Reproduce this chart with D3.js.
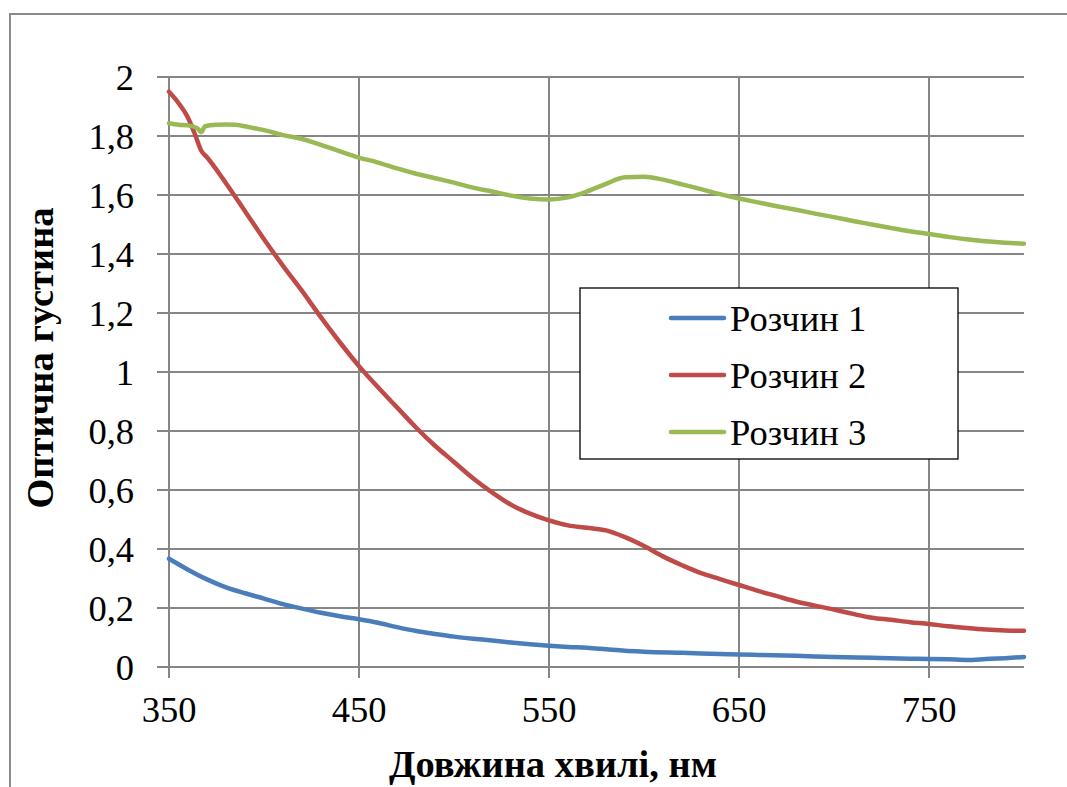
<!DOCTYPE html>
<html>
<head>
<meta charset="utf-8">
<script src="https://cdn.jsdelivr.net/npm/d3@7"></script>
</head>
<body style="margin:0">
<svg id="chart" width="1067" height="787" style="display:block;font-family:'Liberation Serif','Times New Roman',serif"></svg>
<script>
// Absorption spectra: wavelength (nm) vs optical density
const seriesNames = ["Розчин 1", "Розчин 2", "Розчин 3"];
const seriesColors = ["#4A7EBB", "#BE4B48", "#98B954"];

const solution1 = [
  [350,0.367],[360,0.330],[370,0.297],[380,0.270],[390,0.250],[400,0.232],[410,0.213],
  [420,0.198],[430,0.184],[440,0.172],[450,0.162],[460,0.150],[470,0.135],[480,0.122],
  [490,0.112],[500,0.103],[510,0.096],[520,0.090],[530,0.083],[540,0.077],[550,0.072],
  [560,0.068],[570,0.065],[580,0.060],[590,0.055],[600,0.052],[620,0.048],[640,0.044],
  [650,0.042],[660,0.041],[680,0.038],[700,0.034],[720,0.031],[740,0.028],[750,0.027],
  [760,0.026],[770,0.024],[780,0.027],[790,0.030],[800,0.034]
];

const solution2 = [
  [350,1.950],[355,1.912],[360,1.862],[364,1.800],[367,1.750],[370,1.728],[380,1.640],
  [390,1.545],[400,1.450],[410,1.360],[420,1.275],[430,1.185],[440,1.100],[450,1.020],
  [460,0.948],[470,0.880],[480,0.812],[490,0.750],[500,0.695],[510,0.640],[520,0.592],
  [530,0.550],[540,0.520],[550,0.497],[560,0.480],[570,0.472],[580,0.463],[590,0.440],
  [600,0.410],[610,0.375],[620,0.345],[630,0.318],[640,0.298],[650,0.278],[660,0.258],
  [670,0.240],[680,0.222],[690,0.208],[700,0.195],[710,0.180],[720,0.167],[730,0.160],
  [740,0.152],[750,0.146],[760,0.138],[770,0.132],[780,0.127],[790,0.124],[800,0.123]
];

const solution3 = [
  [350,1.843],[355,1.838],[360,1.836],[365,1.826],[367,1.813],[369,1.833],[375,1.838],
  [380,1.839],[385,1.838],[390,1.833],[395,1.826],[400,1.820],[410,1.803],[420,1.790],
  [430,1.770],[440,1.748],[450,1.727],[460,1.710],[470,1.690],[480,1.672],[490,1.657],
  [500,1.642],[510,1.625],[520,1.612],[530,1.598],[540,1.588],[550,1.585],[560,1.592],
  [570,1.612],[580,1.638],[590,1.660],[600,1.662],[610,1.652],[620,1.636],[630,1.620],
  [640,1.603],[650,1.588],[660,1.575],[670,1.562],[680,1.550],[690,1.537],[700,1.525],
  [710,1.512],[720,1.500],[730,1.488],[740,1.477],[750,1.468],[760,1.458],[770,1.450],
  [780,1.443],[790,1.438],[800,1.435]
];

const xTickValues = [350, 450, 550, 650, 750];
const yTickValues = [0, 0.2, 0.4, 0.6, 0.8, 1, 1.2, 1.4, 1.6, 1.8, 2];
const xTitle = "Довжина хвилі, нм";
const yTitle = "Оптична густина";

const allSeries = [solution1, solution2, solution3];

const svg = d3.select("#chart");
const plot = { left: 169, right: 1024, top: 77, bottom: 667 };
const gridColor = "#868686";
const fontName = f => `"${f}"`;
const textFont = fontName("Liberation Serif");
const labelSize = 36.5;
const titleSize = 38.5;

// Outer chart frame
svg.append("rect")
  .attr("x", 10).attr("y", 14)
  .attr("width", 1080).attr("height", 800)
  .attr("fill", "none")
  .attr("stroke", "#8a8a8a")
  .attr("stroke-width", 2);

const x = d3.scaleLinear().domain([350, 800]).range([plot.left, plot.right]);
const y = d3.scaleLinear().domain([0, 2]).range([plot.bottom, plot.top]);

const fmt = v => d3.format("~g")(+v.toFixed(1)).replace(".", ",");

// Horizontal gridlines
svg.append("g")
  .selectAll("line")
  .data(yTickValues)
  .join("line")
  .attr("x1", plot.left - 12).attr("x2", plot.right)
  .attr("y1", d => y(d)).attr("y2", d => y(d))
  .attr("stroke", gridColor).attr("stroke-width", 1.4)
  .attr("shape-rendering", "crispEdges");

// Vertical gridlines with tick extensions below the axis
svg.append("g")
  .selectAll("line")
  .data(xTickValues)
  .join("line")
  .attr("x1", d => x(d)).attr("x2", d => x(d))
  .attr("y1", plot.top).attr("y2", plot.bottom + 11)
  .attr("stroke", gridColor).attr("stroke-width", 1.4)
  .attr("shape-rendering", "crispEdges");

// Y tick labels
svg.append("g")
  .selectAll("text")
  .data(yTickValues)
  .join("text")
  .attr("x", 134)
  .attr("y", d => y(d) + 12.5)
  .attr("text-anchor", "end")
  .style("font-family", textFont)
  .attr("font-size", labelSize)
  .attr("fill", "#000")
  .text(d => fmt(d));

// X tick labels
svg.append("g")
  .selectAll("text")
  .data(xTickValues)
  .join("text")
  .attr("x", d => x(d))
  .attr("y", 722)
  .attr("text-anchor", "middle")
  .style("font-family", textFont)
  .attr("font-size", labelSize)
  .attr("fill", "#000")
  .text(d => d);

// Spectra
const line = d3.line()
  .x(d => x(d[0]))
  .y(d => y(d[1]))
  .curve(d3.curveMonotoneX);

svg.append("g")
  .selectAll("path")
  .data(allSeries)
  .join("path")
  .attr("d", line)
  .attr("fill", "none")
  .attr("stroke", (d, i) => seriesColors[i])
  .attr("stroke-width", 4.5)
  .attr("stroke-linejoin", "round")
  .attr("stroke-linecap", "round");

// Axis titles
svg.append("text")
  .attr("x", 553).attr("y", 777)
  .attr("text-anchor", "middle")
  .style("font-family", textFont)
  .attr("font-weight", "bold")
  .attr("font-size", titleSize)
  .attr("fill", "#000")
  .text(xTitle);

svg.append("text")
  .attr("transform", "translate(53,358) rotate(-90)")
  .attr("text-anchor", "middle")
  .style("font-family", textFont)
  .attr("font-weight", "bold")
  .attr("font-size", titleSize)
  .attr("fill", "#000")
  .text(yTitle);

// Legend
const legend = svg.append("g");
legend.append("rect")
  .attr("x", 580).attr("y", 288)
  .attr("width", 378).attr("height", 171)
  .attr("fill", "#fff")
  .attr("stroke", "#000")
  .attr("stroke-width", 1.3);

const rows = legend.selectAll("g.row")
  .data(seriesNames)
  .join("g")
  .attr("class", "row")
  .attr("transform", (d, i) => `translate(0, ${318 + i * 57})`);

rows.append("line")
  .attr("x1", 671).attr("x2", 724)
  .attr("y1", 0).attr("y2", 0)
  .attr("stroke", (d, i) => seriesColors[i])
  .attr("stroke-width", 4.5)
  .attr("stroke-linecap", "round");

rows.append("text")
  .attr("x", 730).attr("y", 12.5)
  .style("font-family", textFont)
  .attr("font-size", labelSize)
  .attr("fill", "#000")
  .text(d => d);
</script>
</body>
</html>
